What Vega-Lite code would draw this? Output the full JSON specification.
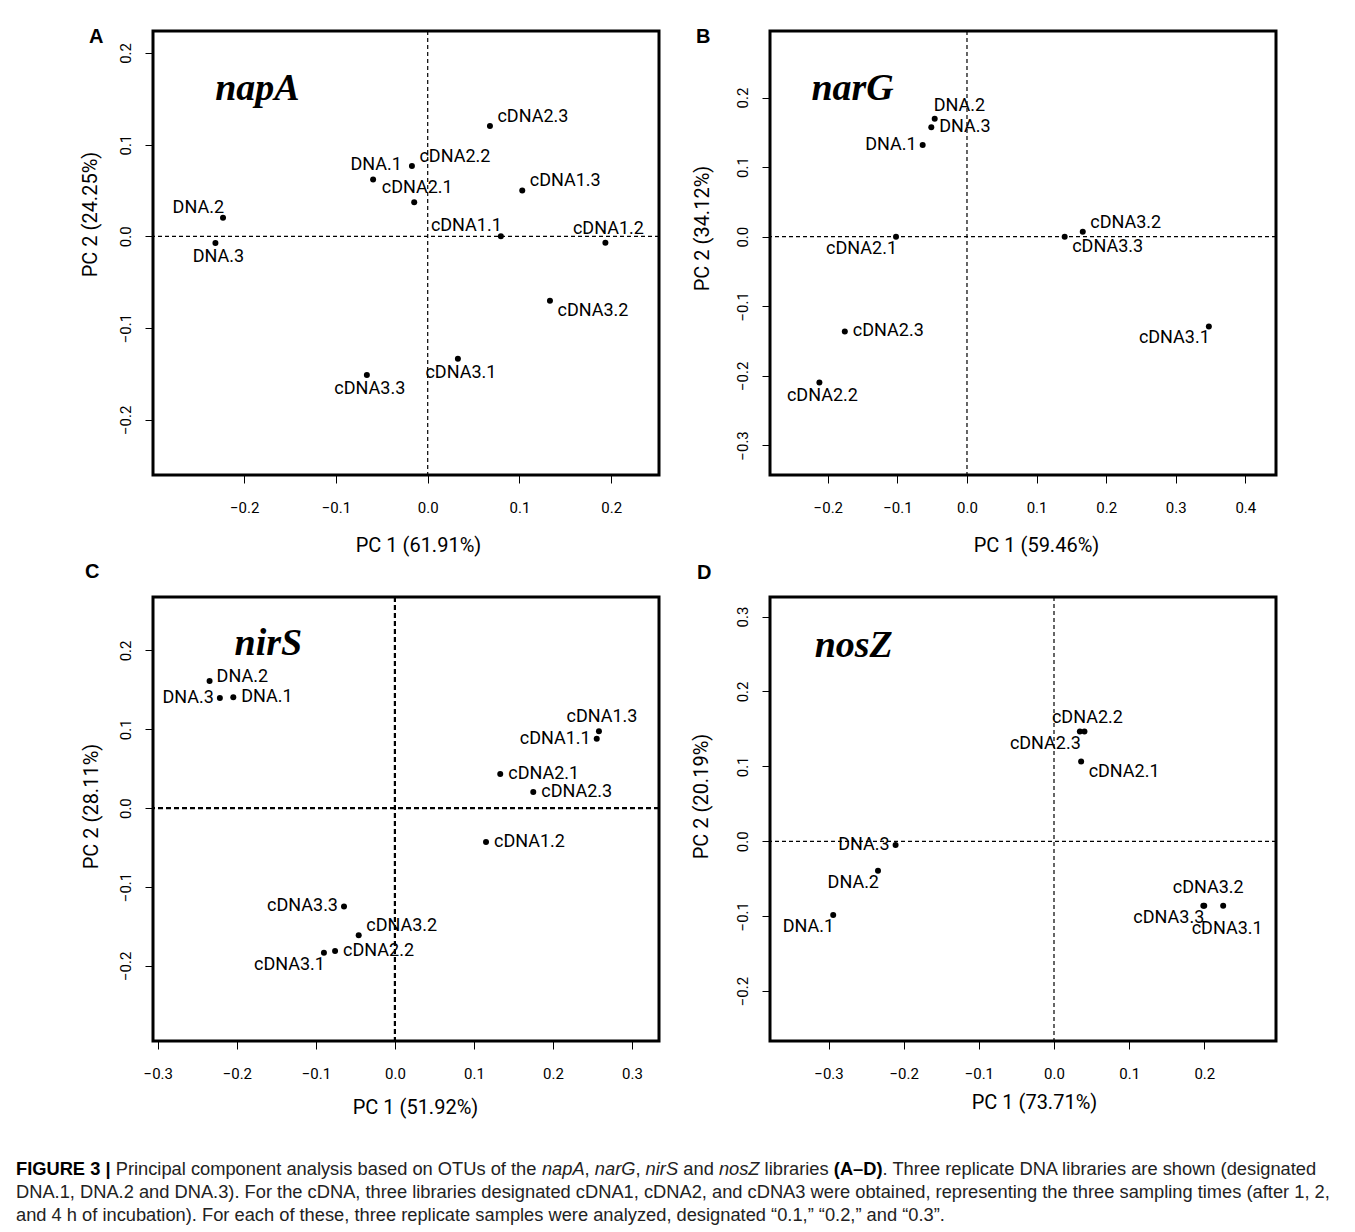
{
  "$schema": "https://vega.github.io/schema/vega-lite/v6.json",
  "background": "white",
  "padding": {"left": 16, "top": 25, "right": 5, "bottom": 5},
  "columns": 2,
  "bounds": "flush",
  "spacing": {"row": 122, "column": 111},
  "concat": [
    {
      "width": 506, "height": 444,
      "title": {"text": "A", "dx": -64, "offset": -16.5},
      "data": {"values": [
        {"name": "cDNA2.3", "pc1": 0.0678, "pc2": 0.1204, "pos": "NE"},
        {"name": "cDNA2.2", "pc1": -0.0172, "pc2": 0.0768, "pos": "NE"},
        {"name": "DNA.1", "pc1": -0.0595, "pc2": 0.0620, "pos": "N"},
        {"name": "cDNA2.1", "pc1": -0.0147, "pc2": 0.0371, "pos": "N"},
        {"name": "cDNA1.3", "pc1": 0.1030, "pc2": 0.0500, "pos": "NE"},
        {"name": "DNA.2", "pc1": -0.2230, "pc2": 0.0204, "pos": "NW"},
        {"name": "DNA.3", "pc1": -0.2313, "pc2": -0.0073, "pos": "S"},
        {"name": "cDNA1.1", "pc1": 0.0797, "pc2": 0.0, "pos": "NW"},
        {"name": "cDNA1.2", "pc1": 0.1936, "pc2": -0.0069, "pos": "N"},
        {"name": "cDNA3.2", "pc1": 0.1332, "pc2": -0.0703, "pos": "SE"},
        {"name": "cDNA3.1", "pc1": 0.0329, "pc2": -0.1334, "pos": "S"},
        {"name": "cDNA3.3", "pc1": -0.0663, "pc2": -0.1513, "pos": "S"}
      ]},
      "layer": [
        {"data": {"values": [{"pc1": 0}]}, "mark": {"type": "rule", "strokeDash": [4, 3], "strokeWidth": 1.2, "color": "black"}, "encoding": {"x": {"field": "pc1", "type": "quantitative"}}},
        {"data": {"values": [{"pc2": 0}]}, "mark": {"type": "rule", "strokeDash": [4, 3], "strokeWidth": 1.2, "color": "black"}, "encoding": {"y": {"field": "pc2", "type": "quantitative"}}},
        {"mark": {"type": "circle", "size": 36, "color": "black", "opacity": 1},
         "encoding": {
           "x": {"field": "pc1", "type": "quantitative", "scale": {"domain": [-0.2993, 0.2520], "nice": false, "zero": false},
                 "axis": {"values": [-0.2, -0.1, 0, 0.1, 0.2], "format": ".1f", "title": "PC 1 (61.91%)", "titleX": 265, "titleY": 76}},
           "y": {"field": "pc2", "type": "quantitative", "scale": {"domain": [-0.2602, 0.2239], "nice": false, "zero": false},
                 "axis": {"values": [-0.2, -0.1, 0, 0.1, 0.2], "format": ".1f", "title": "PC 2 (24.25%)", "titleX": -57, "titleY": 183}}
         }},
        {"encoding": {"x": {"field": "pc1", "type": "quantitative"}, "y": {"field": "pc2", "type": "quantitative"}, "text": {"field": "name"}},
         "layer": [
           {"transform": [{"filter": "datum.pos === 'N'"}], "mark": {"type": "text", "style": ["lab", "N"]}},
           {"transform": [{"filter": "datum.pos === 'S'"}], "mark": {"type": "text", "style": ["lab", "S"]}},
           {"transform": [{"filter": "datum.pos === 'NE'"}], "mark": {"type": "text", "style": ["lab", "NE"]}},
           {"transform": [{"filter": "datum.pos === 'NW'"}], "mark": {"type": "text", "style": ["lab", "NW"]}},
           {"transform": [{"filter": "datum.pos === 'SE'"}], "mark": {"type": "text", "style": ["lab", "SE"]}}
         ]},
        {"data": {"values": [{"g": "napA"}]}, "mark": {"type": "text", "style": "gene"},
         "encoding": {"x": {"datum": -0.2316, "type": "quantitative"}, "y": {"datum": 0.1485, "type": "quantitative"}, "text": {"field": "g"}}}
      ]
    },
    {
      "width": 506, "height": 444,
      "title": {"text": "B", "dx": -74, "offset": -16.5},
      "data": {"values": [
        {"name": "DNA.2", "pc1": -0.0464, "pc2": 0.1695, "pos": "NR"},
        {"name": "DNA.3", "pc1": -0.0513, "pc2": 0.1572, "pos": "E"},
        {"name": "DNA.1", "pc1": -0.0637, "pc2": 0.1316, "pos": "W"},
        {"name": "cDNA2.1", "pc1": -0.1020, "pc2": 0.0, "pos": "SW"},
        {"name": "cDNA3.2", "pc1": 0.1664, "pc2": 0.0072, "pos": "NE"},
        {"name": "cDNA3.3", "pc1": 0.1404, "pc2": 0.0, "pos": "SE"},
        {"name": "cDNA2.3", "pc1": -0.1756, "pc2": -0.1362, "pos": "E"},
        {"name": "cDNA3.1", "pc1": 0.3476, "pc2": -0.1290, "pos": "SW"},
        {"name": "cDNA2.2", "pc1": -0.2121, "pc2": -0.2094, "pos": "S"}
      ]},
      "layer": [
        {"data": {"values": [{"pc1": 0}]}, "mark": {"type": "rule", "strokeDash": [4, 3], "strokeWidth": 1.2, "color": "black"}, "encoding": {"x": {"field": "pc1", "type": "quantitative"}}},
        {"data": {"values": [{"pc2": 0}]}, "mark": {"type": "rule", "strokeDash": [4, 3], "strokeWidth": 1.2, "color": "black"}, "encoding": {"y": {"field": "pc2", "type": "quantitative"}}},
        {"mark": {"type": "circle", "size": 36, "color": "black", "opacity": 1},
         "encoding": {
           "x": {"field": "pc1", "type": "quantitative", "scale": {"domain": [-0.2831, 0.4441], "nice": false, "zero": false},
                 "axis": {"values": [-0.2, -0.1, 0, 0.1, 0.2, 0.3, 0.4], "format": ".1f", "title": "PC 1 (59.46%)", "titleX": 266, "titleY": 76}},
           "y": {"field": "pc2", "type": "quantitative", "scale": {"domain": [-0.3425, 0.2956], "nice": false, "zero": false},
                 "axis": {"values": [-0.3, -0.2, -0.1, 0, 0.1, 0.2], "format": ".1f", "title": "PC 2 (34.12%)", "titleX": -62, "titleY": 197}}
         }},
        {"encoding": {"x": {"field": "pc1", "type": "quantitative"}, "y": {"field": "pc2", "type": "quantitative"}, "text": {"field": "name"}},
         "layer": [
           {"transform": [{"filter": "datum.pos === 'S'"}], "mark": {"type": "text", "style": ["lab", "S"]}},
           {"transform": [{"filter": "datum.pos === 'E'"}], "mark": {"type": "text", "style": ["lab", "E"]}},
           {"transform": [{"filter": "datum.pos === 'W'"}], "mark": {"type": "text", "style": ["lab", "W"]}},
           {"transform": [{"filter": "datum.pos === 'NE'"}], "mark": {"type": "text", "style": ["lab", "NE"]}},
           {"transform": [{"filter": "datum.pos === 'NR'"}], "mark": {"type": "text", "style": ["lab", "NR"]}},
           {"transform": [{"filter": "datum.pos === 'SE'"}], "mark": {"type": "text", "style": ["lab", "SE"]}},
           {"transform": [{"filter": "datum.pos === 'SW'"}], "mark": {"type": "text", "style": ["lab", "SW"]}}
         ]},
        {"data": {"values": [{"g": "narG"}]}, "mark": {"type": "text", "style": "gene"},
         "encoding": {"x": {"datum": -0.2236, "type": "quantitative"}, "y": {"datum": 0.1965, "type": "quantitative"}, "text": {"field": "g"}}}
      ]
    },
    {
      "width": 506, "height": 444,
      "title": {"text": "C", "dx": -68, "offset": 13.5},
      "data": {"values": [
        {"name": "DNA.2", "pc1": -0.2345, "pc2": 0.1614, "pos": "EU"},
        {"name": "DNA.3", "pc1": -0.2215, "pc2": 0.1397, "pos": "W"},
        {"name": "DNA.1", "pc1": -0.2045, "pc2": 0.1406, "pos": "E"},
        {"name": "cDNA1.3", "pc1": 0.2582, "pc2": 0.0976, "pos": "N"},
        {"name": "cDNA1.1", "pc1": 0.2554, "pc2": 0.0881, "pos": "W"},
        {"name": "cDNA2.1", "pc1": 0.1333, "pc2": 0.0434, "pos": "E"},
        {"name": "cDNA2.3", "pc1": 0.1751, "pc2": 0.0203, "pos": "E"},
        {"name": "cDNA1.2", "pc1": 0.1153, "pc2": -0.0429, "pos": "E"},
        {"name": "cDNA3.3", "pc1": -0.0644, "pc2": -0.1247, "pos": "W"},
        {"name": "cDNA3.2", "pc1": -0.0458, "pc2": -0.1614, "pos": "NE"},
        {"name": "cDNA2.2", "pc1": -0.0757, "pc2": -0.1812, "pos": "E"},
        {"name": "cDNA3.1", "pc1": -0.0898, "pc2": -0.1835, "pos": "SW"}
      ]},
      "layer": [
        {"data": {"values": [{"pc1": 0}]}, "mark": {"type": "rule", "strokeDash": [5, 3], "strokeWidth": 2.2, "color": "black"}, "encoding": {"x": {"field": "pc1", "type": "quantitative"}}},
        {"data": {"values": [{"pc2": 0}]}, "mark": {"type": "rule", "strokeDash": [5, 3], "strokeWidth": 2.2, "color": "black"}, "encoding": {"y": {"field": "pc2", "type": "quantitative"}}},
        {"mark": {"type": "circle", "size": 36, "color": "black", "opacity": 1},
         "encoding": {
           "x": {"field": "pc1", "type": "quantitative", "scale": {"domain": [-0.3061, 0.3342], "nice": false, "zero": false},
                 "axis": {"values": [-0.3, -0.2, -0.1, 0, 0.1, 0.2, 0.3], "format": ".1f", "title": "PC 1 (51.92%)", "titleX": 262, "titleY": 72}},
           "y": {"field": "pc2", "type": "quantitative", "scale": {"domain": [-0.2954, 0.2678], "nice": false, "zero": false},
                 "axis": {"values": [-0.2, -0.1, 0, 0.1, 0.2], "format": ".1f", "title": "PC 2 (28.11%)", "titleX": -56, "titleY": 209}}
         }},
        {"encoding": {"x": {"field": "pc1", "type": "quantitative"}, "y": {"field": "pc2", "type": "quantitative"}, "text": {"field": "name"}},
         "layer": [
           {"transform": [{"filter": "datum.pos === 'N'"}], "mark": {"type": "text", "style": ["lab", "N"]}},
           {"transform": [{"filter": "datum.pos === 'E'"}], "mark": {"type": "text", "style": ["lab", "E"]}},
           {"transform": [{"filter": "datum.pos === 'EU'"}], "mark": {"type": "text", "style": ["lab", "EU"]}},
           {"transform": [{"filter": "datum.pos === 'W'"}], "mark": {"type": "text", "style": ["lab", "W"]}},
           {"transform": [{"filter": "datum.pos === 'NE'"}], "mark": {"type": "text", "style": ["lab", "NE"]}},
           {"transform": [{"filter": "datum.pos === 'SW'"}], "mark": {"type": "text", "style": ["lab", "SW"]}}
         ]},
        {"data": {"values": [{"g": "nirS"}]}, "mark": {"type": "text", "style": "gene"},
         "encoding": {"x": {"datum": -0.2029, "type": "quantitative"}, "y": {"datum": 0.1937, "type": "quantitative"}, "text": {"field": "g"}}}
      ]
    },
    {
      "width": 506, "height": 444,
      "title": {"text": "D", "dx": -73, "offset": 13.5},
      "data": {"values": [
        {"name": "cDNA2.2", "pc1": 0.0405, "pc2": 0.1464, "pos": "N"},
        {"name": "cDNA2.3", "pc1": 0.0344, "pc2": 0.1464, "pos": "SW"},
        {"name": "cDNA2.1", "pc1": 0.0361, "pc2": 0.1065, "pos": "SE"},
        {"name": "DNA.3", "pc1": -0.2108, "pc2": -0.0048, "pos": "W"},
        {"name": "DNA.2", "pc1": -0.2342, "pc2": -0.0394, "pos": "SW"},
        {"name": "DNA.1", "pc1": -0.2938, "pc2": -0.0984, "pos": "SW"},
        {"name": "cDNA3.2", "pc1": 0.1999, "pc2": -0.0860, "pos": "NN"},
        {"name": "cDNA3.3", "pc1": 0.1987, "pc2": -0.0860, "pos": "SW"},
        {"name": "cDNA3.1", "pc1": 0.2251, "pc2": -0.0860, "pos": "SS"}
      ]},
      "layer": [
        {"data": {"values": [{"pc1": 0}]}, "mark": {"type": "rule", "strokeDash": [4, 3], "strokeWidth": 1.2, "color": "black"}, "encoding": {"x": {"field": "pc1", "type": "quantitative"}}},
        {"data": {"values": [{"pc2": 0}]}, "mark": {"type": "rule", "strokeDash": [4, 3], "strokeWidth": 1.2, "color": "black"}, "encoding": {"y": {"field": "pc2", "type": "quantitative"}}},
        {"mark": {"type": "circle", "size": 36, "color": "black", "opacity": 1},
         "encoding": {
           "x": {"field": "pc1", "type": "quantitative", "scale": {"domain": [-0.3779, 0.2954], "nice": false, "zero": false},
                 "axis": {"values": [-0.3, -0.2, -0.1, 0, 0.1, 0.2], "format": ".1f", "title": "PC 1 (73.71%)", "titleX": 264, "titleY": 67}},
           "y": {"field": "pc2", "type": "quantitative", "scale": {"domain": [-0.2666, 0.3261], "nice": false, "zero": false},
                 "axis": {"values": [-0.2, -0.1, 0, 0.1, 0.2, 0.3], "format": ".1f", "title": "PC 2 (20.19%)", "titleX": -63, "titleY": 199}}
         }},
        {"encoding": {"x": {"field": "pc1", "type": "quantitative"}, "y": {"field": "pc2", "type": "quantitative"}, "text": {"field": "name"}},
         "layer": [
           {"transform": [{"filter": "datum.pos === 'N'"}], "mark": {"type": "text", "style": ["lab", "N"]}},
           {"transform": [{"filter": "datum.pos === 'NN'"}], "mark": {"type": "text", "style": ["lab", "NN"]}},
           {"transform": [{"filter": "datum.pos === 'SS'"}], "mark": {"type": "text", "style": ["lab", "SS"]}},
           {"transform": [{"filter": "datum.pos === 'W'"}], "mark": {"type": "text", "style": ["lab", "W"]}},
           {"transform": [{"filter": "datum.pos === 'SE'"}], "mark": {"type": "text", "style": ["lab", "SE"]}},
           {"transform": [{"filter": "datum.pos === 'SW'"}], "mark": {"type": "text", "style": ["lab", "SW"]}}
         ]},
        {"data": {"values": [{"g": "nosZ"}]}, "mark": {"type": "text", "style": "gene"},
         "encoding": {"x": {"datum": -0.3185, "type": "quantitative"}, "y": {"datum": 0.2462, "type": "quantitative"}, "text": {"field": "g"}}}
      ]
    },
    {
      "width": 506, "height": 46,
      "view": {"stroke": null},
      "data": {"values": [
        {"line": 1, "seg": "b1", "t": "FIGURE 3 |"},
        {"line": 1, "seg": "s2", "t": "Principal component analysis based on OTUs of the"},
        {"line": 1, "seg": "i3", "t": "napA"},
        {"line": 1, "seg": "s4", "t": ","},
        {"line": 1, "seg": "i5", "t": "narG"},
        {"line": 1, "seg": "s6", "t": ","},
        {"line": 1, "seg": "i7", "t": "nirS"},
        {"line": 1, "seg": "s8", "t": "and"},
        {"line": 1, "seg": "i9", "t": "nosZ"},
        {"line": 1, "seg": "s10", "t": "libraries"},
        {"line": 1, "seg": "b11", "t": "(A–D)"},
        {"line": 1, "seg": "s12", "t": ". Three replicate DNA libraries are shown (designated"},
        {"line": 2, "seg": "r", "t": "DNA.1, DNA.2 and DNA.3). For the cDNA, three libraries designated cDNA1, cDNA2, and cDNA3 were obtained, representing the three sampling times (after 1, 2,"},
        {"line": 3, "seg": "r", "t": "and 4 h of incubation). For each of these, three replicate samples were analyzed, designated “0.1,” “0.2,” and “0.3”."}
      ]},
      "encoding": {
        "y": {"field": "line", "type": "ordinal", "scale": {"type": "point", "padding": 0}, "axis": null},
        "x": {"value": 0},
        "text": {"field": "t"}
      },
      "layer": [
        {"transform": [{"filter": "datum.seg === 'b1'"}], "mark": {"type": "text", "style": ["cap", "capb"], "dx": -137}},
        {"transform": [{"filter": "datum.seg === 's2'"}], "mark": {"type": "text", "style": "cap", "dx": -37.3}},
        {"transform": [{"filter": "datum.seg === 'i3'"}], "mark": {"type": "text", "style": ["cap", "capi"], "dx": 388.9}},
        {"transform": [{"filter": "datum.seg === 's4'"}], "mark": {"type": "text", "style": "cap", "dx": 431.6}},
        {"transform": [{"filter": "datum.seg === 'i5'"}], "mark": {"type": "text", "style": ["cap", "capi"], "dx": 441.8}},
        {"transform": [{"filter": "datum.seg === 's6'"}], "mark": {"type": "text", "style": "cap", "dx": 482.5}},
        {"transform": [{"filter": "datum.seg === 'i7'"}], "mark": {"type": "text", "style": ["cap", "capi"], "dx": 492.6}},
        {"transform": [{"filter": "datum.seg === 's8'"}], "mark": {"type": "text", "style": "cap", "dx": 530.3}},
        {"transform": [{"filter": "datum.seg === 'i9'"}], "mark": {"type": "text", "style": ["cap", "capi"], "dx": 565.9}},
        {"transform": [{"filter": "datum.seg === 's10'"}], "mark": {"type": "text", "style": "cap", "dx": 611.6}},
        {"transform": [{"filter": "datum.seg === 'b11'"}], "mark": {"type": "text", "style": ["cap", "capb"], "dx": 680.8}},
        {"transform": [{"filter": "datum.seg === 's12'"}], "mark": {"type": "text", "style": "cap", "dx": 729.6}},
        {"transform": [{"filter": "datum.seg === 'r'"}], "mark": {"type": "text", "style": "cap", "dx": -137}}
      ]
    }
  ],
  "config": {
    "view": {"stroke": "black", "strokeWidth": 3},
    "axis": {
      "domain": false, "grid": false, "ticks": true, "tickSize": 8, "tickColor": "black", "tickWidth": 1,
      "labelFont": "Roboto", "labelFontSize": 15, "labelColor": "black", "labelOverlap": false, "labelFlush": false,
      "titleFont": "Roboto", "titleFontSize": 20, "titleFontWeight": "normal", "titleColor": "black"
    },
    "axisX": {"labelPadding": 17, "labelBaseline": "top", "labelAlign": "center", "labelAngle": 0, "titleAngle": 0, "titleAlign": "center", "titleBaseline": "alphabetic"},
    "axisY": {"labelPadding": 14.5, "labelAngle": -90, "labelAlign": "center", "labelBaseline": "alphabetic", "titleAngle": -90, "titleAlign": "center", "titleBaseline": "alphabetic"},
    "title": {"font": "Liberation Sans", "fontSize": 20, "fontWeight": "bold", "color": "black", "anchor": "start", "frame": "group", "baseline": "alphabetic"},
    "style": {
      "lab": {"font": "Roboto", "fontSize": 18, "color": "black", "baseline": "middle"},
      "N": {"align": "center", "dx": 3, "dy": -14},
      "NN": {"align": "center", "dx": 4, "dy": -18},
      "S": {"align": "center", "dx": 3, "dy": 14},
      "SS": {"align": "center", "dx": 4, "dy": 23},
      "E": {"align": "left", "dx": 8, "dy": 0},
      "EU": {"align": "left", "dx": 7, "dy": -4},
      "W": {"align": "right", "dx": -6, "dy": 0},
      "NE": {"align": "left", "dx": 7.5, "dy": -9},
      "NR": {"align": "left", "dx": -1, "dy": -13},
      "NW": {"align": "right", "dx": 1, "dy": -10},
      "SE": {"align": "left", "dx": 7.5, "dy": 10},
      "SW": {"align": "right", "dx": 1, "dy": 12},
      "gene": {"font": "Liberation Serif", "fontSize": 38, "fontWeight": "bold", "fontStyle": "italic", "align": "left", "baseline": "alphabetic", "color": "black"},
      "cap": {"font": "Liberation Sans", "fontSize": 18.3, "color": "#222222", "align": "left", "baseline": "alphabetic", "dy": 12},
      "capb": {"fontWeight": "bold", "color": "#000000"},
      "capi": {"fontStyle": "italic"}
    }
  }
}
